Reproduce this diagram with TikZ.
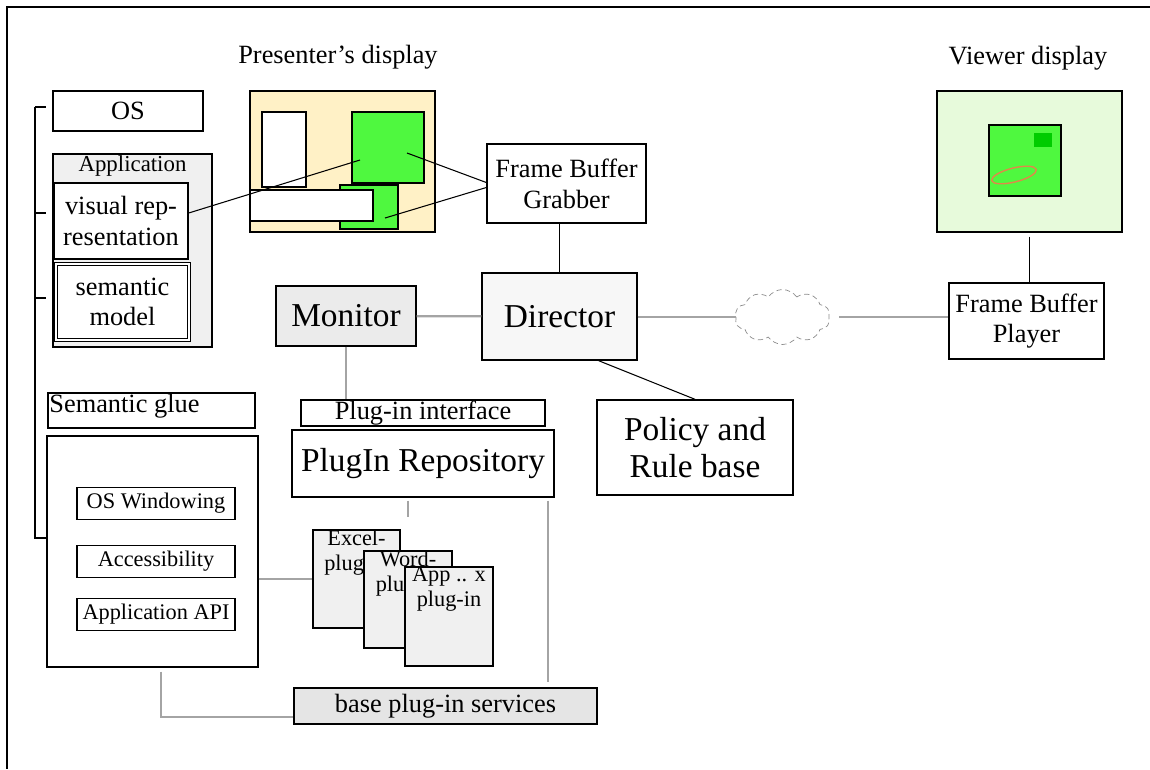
\documentclass[tikz,border=0pt]{standalone}
\usepackage{fontspec}
\setmainfont{Liberation Serif}
\usepackage{xcolor}
\usetikzlibrary{positioning, shapes.geometric, shapes.symbols}
\definecolor{cream}{HTML}{FFF1C6}
\definecolor{brightgreen}{HTML}{4FF83F}
\definecolor{darkgreen}{HTML}{00CC00}
\definecolor{palegreen}{HTML}{E7FADB}
\definecolor{scribble}{HTML}{E0884A}
\definecolor{linegray}{HTML}{A4A4A4}
\definecolor{cloudgray}{HTML}{8C8C8C}
\newcommand{\bigf}{\fontsize{19}{21}\selectfont}
\newcommand{\midf}{\fontsize{15}{17.5}\selectfont}
\newcommand{\smallf}{\fontsize{12.7}{14.5}\selectfont}

\begin{document}
\begin{tikzpicture}[x=0.02cm, y=-0.02cm,
    box/.style 2 args={draw, line width=0.8pt, minimum width=#1*0.02cm, minimum height=#2*0.02cm, inner sep=0pt, align=center},
    link/.style={line width=0.6pt},
    glink/.style={line width=1.3pt, draw=linegray}]
    \useasboundingbox (0,0) rectangle (1150,769);
    \draw[link] (1150,7) -- (7,7) -- (7,769);

    \node[font=\midf] (ptitle) at (338,57) {Presenter’s display};
    \node[box={185}{141}, fill=cream] (pres) at (342.5,161.5) {};
    \node[box={44}{75}, fill=white] (pwin1) at (284,149.5) {};
    \node[box={72}{71}, fill=brightgreen] (pwin2) at (388,147.5) {};
    \node[box={58}{44}, fill=brightgreen] (pwin3) at (369,207) {};
    \node[box={123}{31}, fill=white] (pwin4) at (311.5,205.5) {};

    \node[font=\midf] (vtitle) at (1028,58) {Viewer display};
    \node[box={185}{141}, fill=palegreen] (viewer) at (1029.5,161.5) {};
    \node[box={72}{71}, fill=brightgreen] (vwin) at (1025,160.5) {};
    \node[fill=darkgreen, minimum width=18*0.02cm, minimum height=14*0.02cm, inner sep=0pt] (vmark) at (1043,140) {};
    \node[ellipse, draw=scribble, line width=0.8pt, minimum width=46*0.02cm, minimum height=14*0.02cm, inner sep=0pt, rotate=14] (vloop) at (1014,175) {};

    \node[box={150}{40}, font=\midf] (os) at (128,111) {OS};
    \node[box={159}{193}, fill=black!6] (app) at (132.5,250.5) {};
    \node[font=\fontsize{13}{15}\selectfont, anchor=north, inner sep=1pt] (applbl) at (app.north) {Application};
    \node[box={134}{76}, fill=white, font=\midf] (visrep) at (121,221) {visual rep-\\resentation};
    \node[box={133}{76}, fill=white, font=\midf, double=white, double distance=1pt] (semmodel) at (122.5,302) {semantic\\model};

    \node[box={207}{35}] (glue) at (151.5,410.5) {};
    \node[font=\midf, anchor=north west, inner sep=1pt] (gluelbl) at (glue.north west) {Semantic glue};
    \node[box={211}{231}] (api) at (152.5,551.5) {};
    \node[box={158}{32}, font=\smallf] (oswin) at (156,503.5) {OS Windowing};
    \node[box={158}{32}, font=\smallf] (access) at (156,561.5) {Accessibility};
    \node[box={158}{32}, font=\smallf] (appapi) at (156,614.5) {Application API};

    \node[box={159}{79}, font=\midf] (grabber) at (566.5,183.5) {Frame Buffer\\Grabber};
    \node[box={155}{87}, fill=black!3, font=\bigf] (director) at (559.5,316.5) {Director};
    \node[box={140}{60}, fill=black!8, font=\bigf] (monitor) at (346,316) {Monitor};
    \node[cloud, cloud puffs=10, cloud puff arc=110, aspect=1.8, draw=cloudgray, densely dashed, minimum width=95*0.02cm, minimum height=55*0.02cm, inner sep=0pt] (net) at (782.5,317) {};
    \node[box={155}{76}, font=\midf] (player) at (1026.5,321) {Frame Buffer\\Player};
    \node[box={196}{95}, font=\bigf] (policy) at (695,447.5) {Policy and\\Rule base};

    \node[box={244}{26}, font=\midf] (plugif) at (423,413) {Plug-in interface};
    \node[box={262}{67}, font=\bigf] (repo) at (423,463.5) {PlugIn Repository};
    \node[box={87}{98}, fill=black!6, label={[anchor=north, align=center, inner sep=0pt, font=\smallf]north:Excel-\\plug-in}] (excel) at (356.5,579) {};
    \node[box={88}{97}, fill=black!6, label={[anchor=north, align=center, inner sep=0pt, font=\smallf]north:Word-\\plug-in}] (word) at (408,599.5) {};
    \node[box={88}{99}, fill=black!6, label={[anchor=north, align=center, inner sep=0pt, font=\smallf]north:App .. x\\plug-in}] (appx) at (449,616.5) {};
    \node[box={303}{36}, fill=black!10, font=\midf] (base) at (445.5,706) {base plug-in services};

    \coordinate (vtarget) at (360,160);
    \coordinate (gsrc1) at (407,153);
    \coordinate (gsrc2) at (385,218);
    \coordinate (brtop) at (35,107);
    \coordinate (brbot) at (35,538);
    \coordinate (tick1) at (35,213);
    \coordinate (tick2) at (35,298);

    \draw[link] ([yshift=0.16cm]visrep.east) -- (vtarget);
    \draw[link] (gsrc1) -- ([yshift=0.02cm]grabber.west);
    \draw[link] (gsrc2) -- ([yshift=-0.08cm]grabber.west);
    \draw[link] (director.north |- grabber.south) -- (director.north);
    \draw[link] ([xshift=-0.78cm]director.south east) -- (policy.north);
    \draw[link] ([yshift=-0.08cm]viewer.south) -- (viewer.south |- player.north);

    \draw[link] (brtop) -- (brbot) -- (brbot -| api.west);
    \draw[link, shorten >=0.12cm] (brtop) -- (brtop -| os.west);
    \draw[link, shorten >=0.12cm] (tick1) -- (tick1 -| app.west);
    \draw[link, shorten >=0.12cm] (tick2) -- (tick2 -| app.west);

    \draw[glink] (monitor) -- (director);
    \draw[glink] (director.east |- net.west) -- (net.west);
    \draw[glink, shorten <=0.2cm] (net.east) -- (net.east -| player.west);
    \draw[glink] (monitor.south) -- (monitor.south |- plugif.north);
    \draw[glink, shorten <=0.06cm, shorten >=0.24cm] (repo.south -| word.north) -- (word.north |- excel.north);
    \draw[glink, shorten <=0.06cm, shorten >=0.1cm] ([xshift=-0.14cm]repo.south east) -- ([xshift=-0.14cm]repo.south east |- base.north);
    \draw[glink] (api.east |- excel.west) -- (excel.west);
    \draw[glink, shorten <=0.08cm] ([xshift=0.17cm]api.south) |- ([yshift=-0.22cm]base.west);
\end{tikzpicture}
\end{document}
